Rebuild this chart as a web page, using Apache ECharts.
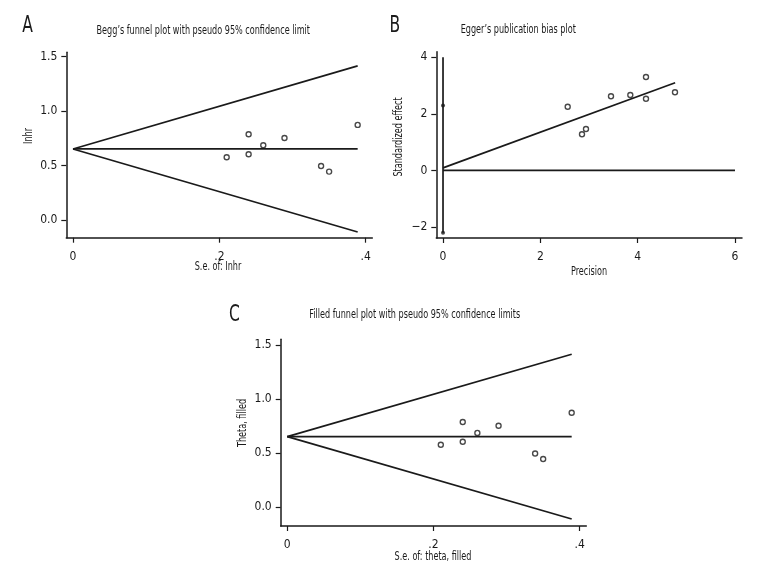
<!DOCTYPE html>
<html>
<head>
<meta charset="utf-8">
<script src="https://cdn.jsdelivr.net/npm/echarts@6/dist/echarts.min.js"></script>
<style>
html,body{margin:0;padding:0;background:#fff;}
#main{width:768px;height:588px;}
</style>
</head>
<body>
<div id="main"></div>
<script>
// ---- Data ----
// Panel A / C: Begg's funnel plot (standard error vs ln HR)
var seLnhr = [0.210, 0.240, 0.240, 0.260, 0.289, 0.339, 0.350, 0.389];
var lnhr   = [0.576, 0.787, 0.604, 0.686, 0.753, 0.496, 0.444, 0.873];
var funnelSE    = [0, 0.389];
var funnelUpper = [0.652, 1.415];
var funnelLower = [0.652, -0.111];
var funnelMid   = [0.652, 0.652];
// Panel B: Egger's plot (precision vs standardized effect)
var precision   = [2.562, 2.856, 2.938, 3.452, 3.849, 4.171, 4.171, 4.767];
var stdEffect   = [2.254, 1.279, 1.466, 2.622, 2.668, 3.304, 2.537, 2.763];
var eggerFitX   = [0, 4.77];
var eggerFitY   = [0.09, 3.10];
var eggerCIy    = [2.30, -2.20];      // intercept CI ends at precision 0
var eggerVert   = [-2.20, 4.0];       // vertical line at precision 0
var eggerZeroX  = [0, 6];
// Tick labels
var ticksA_x = [0, 0.2, 0.4];
var ticksA_xLabels = ['0', '.2', '.4'];
var ticksA_y = [0, 0.5, 1.0, 1.5];
var ticksA_yLabels = ['0.0', '0.5', '1.0', '1.5'];
var ticksB_x = [0, 2, 4, 6];
var ticksB_y = [-2, 0, 2, 4];
var ticksB_yLabels = ['\u22122', '0', '2', '4'];

var FONT = '"Liberation Sans Narrow","DejaVu Sans Condensed","Liberation Sans",sans-serif';
var INK = '#1a1a1a';
var SQ = 0.75; // horizontal condensing of text

function pairs(xs, ys){ return xs.map(function(x,i){ return [x, ys[i]]; }); }

function valAxis(idx, min, max, vals, labels, isX){
  return {
    type:'value', gridIndex: idx, min: min, max: max,
    axisLine:{show:true, onZero:false, lineStyle:{color:INK, width:1.5}},
    axisTick:{show:true, inside:false, length:5, customValues: vals, lineStyle:{color:INK, width:1.2}},
    axisLabel:{show:true, customValues: vals, margin: isX ? 13 : 9,
      fontFamily: FONT, fontSize: 12, color: INK,
      formatter: function(v){
        for (var k=0;k<vals.length;k++){ if (Math.abs(vals[k]-v)<1e-9) return labels ? labels[k] : String(vals[k]); }
        return '';
      }},
    splitLine:{show:false}
  };
}

function lineSeries(xi, yi, data, w){
  return {type:'line', xAxisIndex:xi, yAxisIndex:yi, data:data, symbol:'none',
    lineStyle:{color:INK, width:w||1.7}, silent:true, animation:false, z:2};
}
function dotSeries(xi, yi, data){
  return {type:'scatter', xAxisIndex:xi, yAxisIndex:yi, data:data, symbol:'circle', symbolSize:5,
    itemStyle:{color:'#fff', borderColor:INK, borderWidth:1.4}, animation:false, z:3};
}
function txt(x, y, s, opts){
  opts = opts || {};
  return {type:'text', x:x, y:y, rotation: opts.rot || 0, scaleX: SQ, scaleY: 1,
    style:{text:s, font:(opts.size||12)+'px '+FONT, fill:INK, align: opts.align||'center', verticalAlign:'middle'}};
}

var chart = echarts.init(document.getElementById('main'), null, {renderer:'canvas'});

var option = {
  backgroundColor:'#fff',
  animation:false,
  grid:[
    {left:66.3, top:52.3, width:306, height:185.4},
    {left:436.3, top:51.7, width:305.7, height:186.3},
    {left:280.7, top:339.3, width:305.6, height:186.7}
  ],
  xAxis:[
    valAxis(0, -0.00916, 0.409, ticksA_x, ticksA_xLabels, true),
    valAxis(1, -0.138, 6.144, ticksB_x, null, true),
    valAxis(2, -0.009, 0.409, ticksA_x, ticksA_xLabels, true)
  ],
  yAxis:[
    valAxis(0, -0.163, 1.540, ticksA_y, ticksA_yLabels, false),
    valAxis(1, -2.389, 4.198, ticksB_y, ticksB_yLabels, false),
    valAxis(2, -0.176, 1.553, ticksA_y, ticksA_yLabels, false)
  ],
  series:[
    // Panel A
    lineSeries(0,0, pairs(funnelSE, funnelUpper)),
    lineSeries(0,0, pairs(funnelSE, funnelLower)),
    lineSeries(0,0, pairs(funnelSE, funnelMid)),
    dotSeries(0,0, pairs(seLnhr, lnhr)),
    // Panel B
    lineSeries(1,1, pairs([0,0], eggerVert)),
    lineSeries(1,1, pairs(eggerZeroX, [0,0])),
    lineSeries(1,1, pairs(eggerFitX, eggerFitY)),
    {type:'scatter', xAxisIndex:1, yAxisIndex:1, data: pairs([0,0], eggerCIy), symbol:'circle', symbolSize:4,
      itemStyle:{color:INK}, animation:false, z:3},
    dotSeries(1,1, pairs(precision, stdEffect)),
    // Panel C
    lineSeries(2,2, pairs(funnelSE, funnelUpper)),
    lineSeries(2,2, pairs(funnelSE, funnelLower)),
    lineSeries(2,2, pairs(funnelSE, funnelMid)),
    dotSeries(2,2, pairs(seLnhr, lnhr))
  ],
  graphic:[
    // panel letters
    txt(27.5, 26, 'A', {size:23}),
    txt(394.8, 26, 'B', {size:23}),
    txt(234.3, 315, 'C', {size:23}),
    // titles
    txt(203.3, 31, "Begg\u2019s funnel plot with pseudo 95% confidence limit"),
    txt(460.7, 30, "Egger\u2019s publication bias plot", {align:'left'}),
    txt(414.7, 315, "Filled funnel plot with pseudo 95% confidence limits"),
    // axis names
    txt(218, 267, 'S.e. of: Inhr'),
    txt(29, 136, 'Inhr', {rot:Math.PI/2}),
    txt(589, 272, 'Precision'),
    txt(399, 137, 'Standardized effect', {rot:Math.PI/2}),
    txt(433, 557, 'S.e. of: theta, filled'),
    txt(243, 423, 'Theta, filled', {rot:Math.PI/2})
  ]
};
chart.setOption(option);
</script>
</body>
</html>
